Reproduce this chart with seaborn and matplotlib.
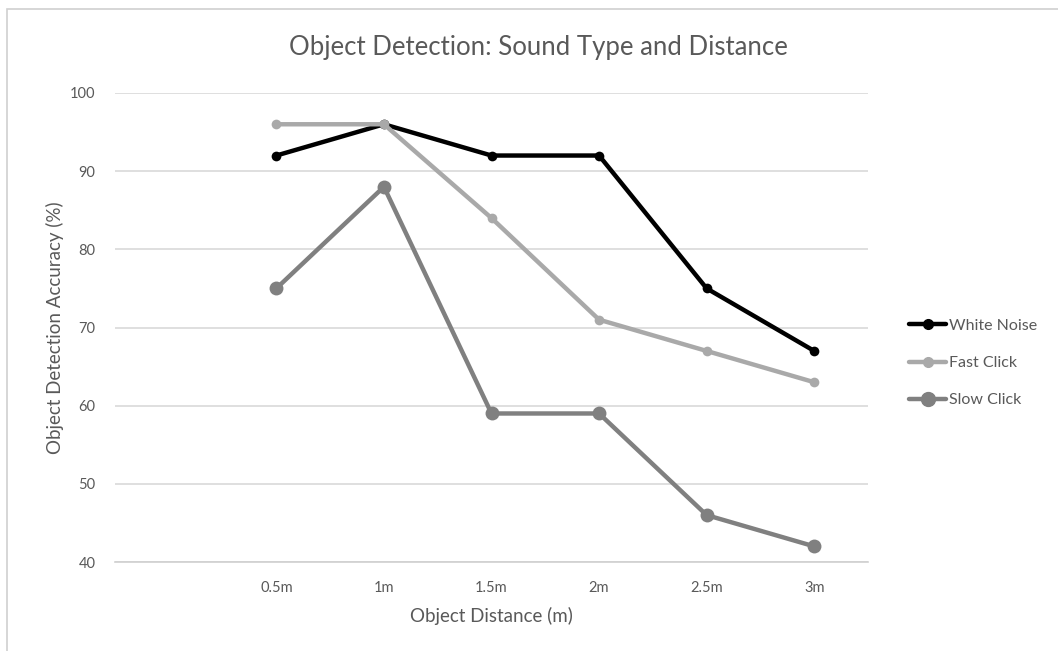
import matplotlib
matplotlib.use("Agg")
import matplotlib.pyplot as plt
from matplotlib.patches import Rectangle
from matplotlib.lines import Line2D
import seaborn as sns
import pandas as pd

# Distances tested (a blank leading slot keeps the first category empty)
distances = ["", "0.5m", "1m", "1.5m", "2m", "2.5m", "3m"]
measured = ["0.5m", "1m", "1.5m", "2m", "2.5m", "3m"]

white_noise = [92, 96, 92, 92, 75, 67]
fast_click = [96, 96, 84, 71, 67, 63]
slow_click = [75, 88, 59, 59, 46, 42]

series_names = ["White Noise", "Fast Click", "Slow Click"]
series_values = [white_noise, fast_click, slow_click]
series_colors = ["#000000", "#a9a9a9", "#808080"]
series_marker = [7, 7, 10]
series_width = [3.2, 3.2, 3.2]

y_ticks = [40, 50, 60, 70, 80, 90, 100]

rows = []
for name, vals in zip(series_names, series_values):
    for d, v in zip(measured, vals):
        rows.append({"distance": d, "pos": distances.index(d), "accuracy": v, "sound": name})
df = pd.DataFrame(rows)

sns.set_theme(style="white")
plt.rcParams["font.family"] = ["Lato", "DejaVu Sans"]
text_color = "#595959"

fig = plt.figure(figsize=(10.58, 6.51), dpi=100)
ax = fig.add_axes([115 / 1058, 1 - 562 / 651, (868 - 115) / 1058, (562 - 93) / 651])

# outer chart frame
fig.patches.append(Rectangle((7 / 1058, -0.05), 1.2, 1 - 9 / 651 + 0.05,
                             transform=fig.transFigure, fill=False,
                             edgecolor="#d0d0d0", linewidth=1.2, zorder=0))

for name, color, ms, lw in zip(series_names, series_colors, series_marker, series_width):
    sub = df[df["sound"] == name]
    sns.lineplot(data=sub, x="pos", y="accuracy", ax=ax, color=color,
                 linewidth=lw, marker="o", markersize=ms,
                 markeredgecolor=color, markeredgewidth=0, label=name, legend=False)

ax.set_xlim(-0.5, len(distances) - 0.5)
ax.set_ylim(40, 100)
ax.set_yticks(y_ticks)
ax.set_yticklabels([str(t) for t in y_ticks])
ax.set_xticks(range(len(distances)))
ax.set_xticklabels(distances)
ax.grid(axis="y", color="#d9d9d9", linewidth=1.2)
ax.set_axisbelow(True)
for s in ["top", "right", "left"]:
    ax.spines[s].set_visible(False)
ax.spines["bottom"].set_color("#d0d0d0")
ax.spines["bottom"].set_linewidth(1.2)
ax.tick_params(axis="y", length=0, pad=14, labelsize=10.5, labelcolor=text_color)
ax.tick_params(axis="x", length=0, pad=14, labelsize=10.5, labelcolor=text_color)

ax.set_xlabel("Object Distance (m)", fontsize=13.5, color=text_color, labelpad=8)
ax.set_ylabel("Object Detection Accuracy (%)", fontsize=13.5, color=text_color, labelpad=4)

fig.text(538 / 1058, 1 - 47 / 651, "Object Detection: Sound Type and Distance",
         ha="center", va="center", fontsize=18.5, color=text_color)

handles = [Line2D([0], [0], color=c, linewidth=w, marker="o", markersize=m)
           for c, w, m in zip(series_colors, series_width, series_marker)]
leg = fig.legend(handles, series_names, loc="center left",
                 bbox_to_anchor=(895 / 1058, 1 - 363 / 651), frameon=False,
                 fontsize=11.5, handlelength=2.3, handletextpad=0.15, labelspacing=1.45)
for t in leg.get_texts():
    t.set_color(text_color)

fig.savefig("out.png", dpi=100)
